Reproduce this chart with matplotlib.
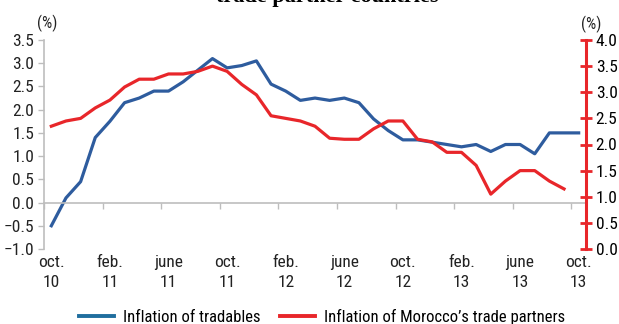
import numpy as np
import matplotlib
matplotlib.use('Agg')
import matplotlib.pyplot as plt
from matplotlib import font_manager as fm
from matplotlib.lines import Line2D

# pick a narrow sans face if one is available
fonts = fm.fontManager.ttflist
names = {f.name for f in fonts}
stretch = 'normal'
if 'Liberation Sans Narrow' in names:
    face = 'Liberation Sans Narrow'
elif 'Roboto Condensed' in names:
    face = 'Roboto Condensed'
elif any(f.name == 'DejaVu Sans' and f.stretch == 'condensed' for f in fonts):
    face, stretch = 'DejaVu Sans', 'condensed'
else:
    face = 'Roboto'
plt.rcParams['font.family'] = [face, 'DejaVu Sans']
plt.rcParams['font.stretch'] = stretch

# monthly series, oct. 2010 to oct. 2013
tradables = [-0.5, 0.1, 0.45, 1.4, 1.75, 2.15, 2.25, 2.4, 2.4, 2.6,
             2.85, 3.1, 2.9, 2.95, 3.05, 2.55, 2.4, 2.2, 2.25, 2.2,
             2.25, 2.15, 1.8, 1.55, 1.35, 1.35, 1.3, 1.25, 1.2, 1.25,
             1.1, 1.25, 1.25, 1.05, 1.5, 1.5, 1.5]
partners = [2.35, 2.45, 2.5, 2.7, 2.85, 3.1, 3.25, 3.25, 3.35, 3.35,
            3.4, 3.5, 3.4, 3.15, 2.95, 2.55, 2.5, 2.45, 2.35, 2.12,
            2.1, 2.1, 2.3, 2.45, 2.45, 2.1, 2.05, 1.85, 1.85, 1.6,
            1.05, 1.3, 1.5, 1.5, 1.3, 1.15, np.nan]
tick_labels = ['oct.\n10', 'feb.\n11', 'june\n11', 'oct.\n11', 'feb.\n12',
               'june\n12', 'oct.\n12', 'feb.\n13', 'june\n13', 'oct.\n13']

blue = '#2E5C9E'
red = '#E8262A'
grey = '#BDBDBD'
x = np.arange(len(tradables))

fig = plt.figure(figsize=(6.19, 3.24), dpi=100)
ax = fig.add_axes([44 / 619, 1 - 249 / 324, (586 - 44) / 619, 209 / 324])
ax2 = ax.twinx()

ax.plot(x, tradables, color=blue, lw=2.3, solid_joinstyle='round')
ax2.plot(x, partners, color=red, lw=2.3, solid_joinstyle='round')

ax.set_xlim(-0.5, len(x) - 0.5)
ax.set_ylim(-1.0, 3.5)
ax2.set_ylim(0.0, 4.0)
ax.set_yticks(np.arange(-1.0, 3.51, 0.5))
ax2.set_yticks(np.arange(0.0, 4.01, 0.5))
ax.yaxis.set_major_formatter('{x:.1f}')
ax2.yaxis.set_major_formatter('{x:.1f}')

# left axis: light grey spine, zero line carries the month ticks
for s in ['top', 'right']:
    ax.spines[s].set_visible(False)
ax.spines['left'].set_color(grey)
ax.spines['left'].set_linewidth(1.2)
ax.spines['bottom'].set_position(('data', 0))
ax.spines['bottom'].set_color(grey)
ax.spines['bottom'].set_linewidth(1.2)
ax.tick_params(axis='y', colors=grey, length=4, width=1, pad=3,
               labelsize=12.5, labelcolor='#222222')
ax.set_xticks(np.arange(-0.5, len(x), 4))
ax.tick_params(axis='x', colors=grey, length=4, width=1, labelbottom=False)

# right axis in red
for s in ['top', 'left', 'bottom']:
    ax2.spines[s].set_visible(False)
ax2.spines['right'].set_color(red)
ax2.spines['right'].set_linewidth(2.2)
ax2.tick_params(axis='y', colors=red, direction='inout', length=8, width=2,
                pad=3, labelsize=12.5, labelcolor='black')

# month labels under the plot area
sec = ax.secondary_xaxis(0)
sec.set_xticks(x[::4], tick_labels)
sec.spines['bottom'].set_visible(False)
sec.tick_params(length=0, pad=4, labelsize=12.5, labelcolor='#222222')
for lbl in sec.get_xticklabels():
    lbl.set_linespacing(1.45)

fig.text(47 / 619, 1 - 23 / 324, '(%)', ha='center', va='center',
         fontsize=11.5, color='#222222')
fig.text(591 / 619, 1 - 24 / 324, '(%)', ha='center', va='center',
         fontsize=11.5, color='#222222')
fig.text(327 / 619, 1 - 2 / 324, 'trade partner countries', ha='center',
         va='baseline', fontsize=16, fontweight='bold',
         family='Liberation Serif')

handles = [Line2D([], [], color='#1F6E9E', lw=2.8),
           Line2D([], [], color=red, lw=2.8)]
fig.legend(handles, ['Inflation of tradables',
                     "Inflation of Morocco\u2019s trade partners"],
           loc='center', bbox_to_anchor=(322 / 619, 1 - 317 / 324), ncol=2,
           frameon=False, fontsize=12, handlelength=2.1, handletextpad=0.55,
           columnspacing=1.2, borderaxespad=0, borderpad=0)

fig.savefig('out.png', dpi=100)
